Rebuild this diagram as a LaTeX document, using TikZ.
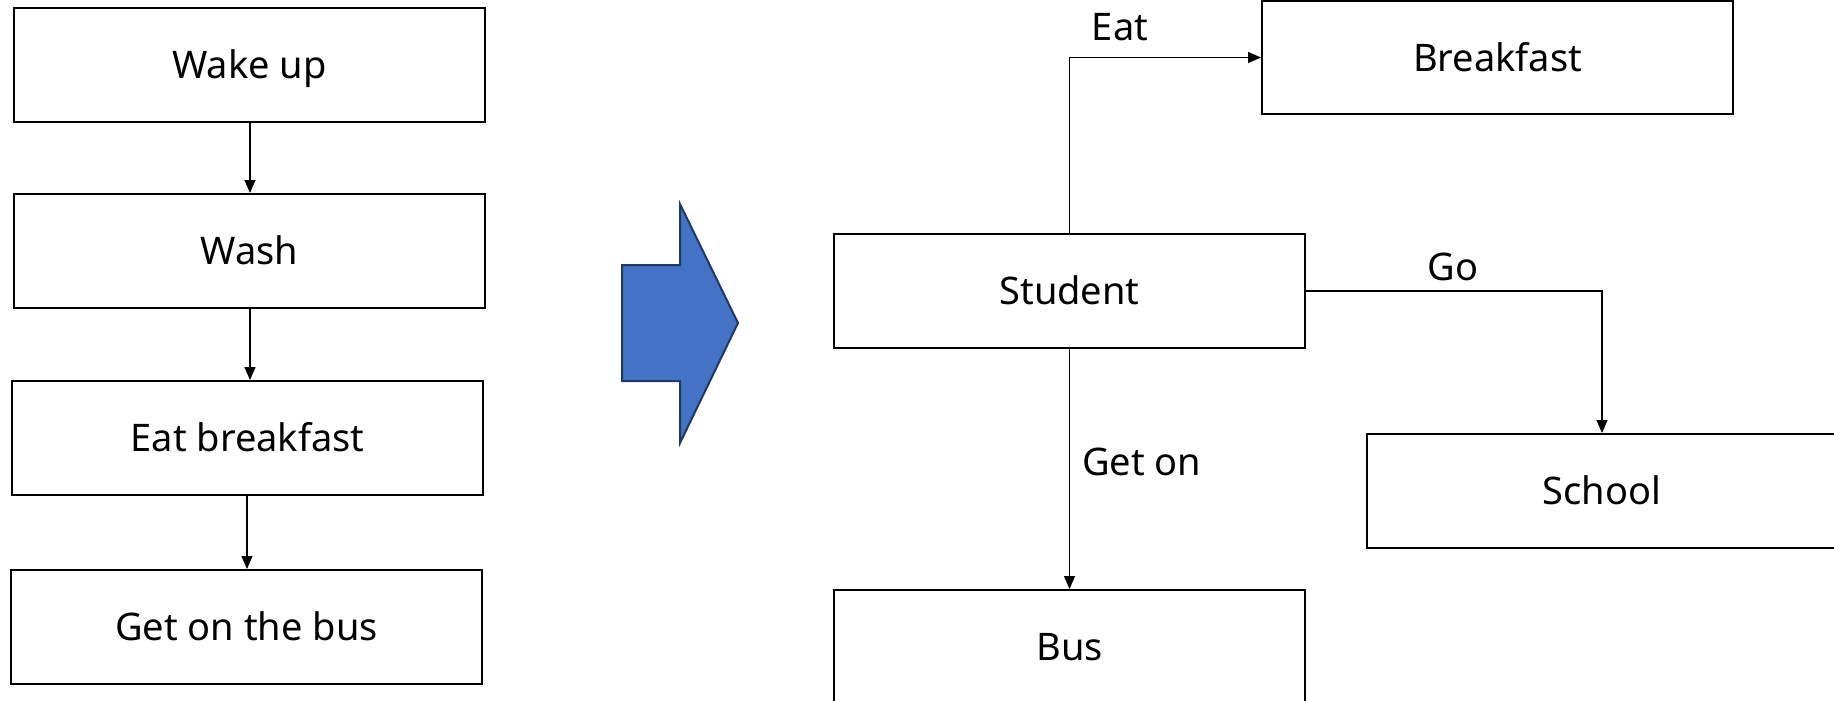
\documentclass[tikz,border=0pt]{standalone}
\usepackage{fontspec}
\setmainfont{Noto Sans}
\usetikzlibrary{arrows.meta}
\definecolor{arrowfill}{HTML}{4472C4}
\definecolor{arrowline}{HTML}{1F3864}
\begin{document}
\begin{tikzpicture}[x=1pt,y=-1pt,
  box/.style={draw=black,line width=2pt,minimum width=471pt,minimum height=114pt,inner sep=0pt,font=\fontsize{38}{40}\selectfont,text height=27pt,text depth=0pt},
  conn/.style={draw=black,line width=1.2pt,-{Triangle[length=13pt,width=11pt]}},
  lbl/.style={inner sep=0pt,font=\fontsize{38}{40}\selectfont,text height=27pt,text depth=0pt}]
\useasboundingbox (0,0) rectangle (1834,701);
\clip (0,0) rectangle (1834,701);
% left flow
\node[box] (wake) at (249.5,65) {Wake up};
\node[box] (wash) at (249.5,251) {Wash};
\node[box] (eat) at (247.5,438) {Eat breakfast};
\node[box] (geton) at (246.5,627) {Get on the bus};
\draw[conn] (wake.south -| 250,0) -- (wash.north -| 250,0);
\draw[conn] (wash.south -| 250,0) -- (eat.north -| 250,0);
\draw[conn] (eat.south -| 247,0) -- (geton.north -| 247,0);
% big arrow
\draw[fill=arrowfill,draw=arrowline,line width=2pt,line join=miter]
  (622,265) -- (680,265) -- (680,204) -- (738,323) -- (680,443) -- (680,381) -- (622,381) -- cycle;
% right diagram
\node[box] (student) at (1069.5,291) {Student};
\node[box,minimum height=113pt] (breakfast) at (1497.5,57.5) {Breakfast};
\node[box,minimum width=470pt] (school) at (1602,491) {School};
\node[box] (bus) at (1069.5,647) {Bus};
\draw[conn] (student.north) |- (breakfast.west);
\draw[conn] (student.east) -| (school.north);
\draw[conn] (student.south) -- (bus.north);
\node[lbl] (leat) at (1120,27) {Eat};
\node[lbl] (lgo) at (1453,267) {Go};
\node[lbl,anchor=west] (lgeton) at (1082,462) {Get on};
\end{tikzpicture}
\end{document}
